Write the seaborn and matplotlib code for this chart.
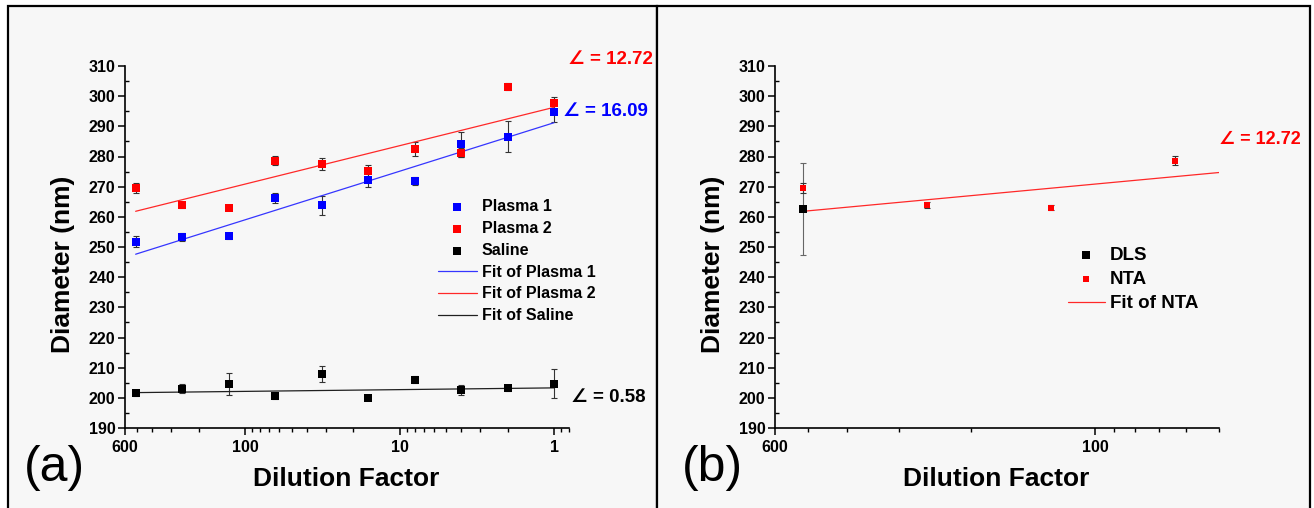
import numpy as np
import pandas as pd
import matplotlib
matplotlib.use("Agg")
import matplotlib.pyplot as plt
import seaborn as sns
from matplotlib.ticker import FixedLocator, FixedFormatter, LogLocator, NullFormatter, MultipleLocator
from matplotlib.patches import Rectangle

# ---------------- data ----------------
dilution = [512, 256, 128, 64, 32, 16, 8, 4, 2, 1]
plasma1 = [251.7, 253.3, 253.8, 266.3, 263.8, 272.2, 272.0, 284.1, 286.6, 294.6]
plasma1_err = [1.8, 1.2, 1.0, 1.7, 3.1, 2.4, 1.3, 4.1, 5.1, 3.2]
plasma2 = [269.5, 263.9, 263.0, 278.6, 277.6, 275.3, 282.5, 281.3, 303.1, 297.8]
plasma2_err = [1.6, 1.0, 0.8, 1.5, 2.0, 2.0, 2.4, 1.5, 1.2, 2.0]
saline = [201.7, 203.0, 204.6, 200.5, 207.9, 200.0, 206.0, 202.6, 203.2, 204.6]
saline_err = [1.0, 1.5, 3.7, 0.8, 2.5, 0.5, 1.2, 1.7, 1.0, 4.8]

dilution_b = [512, 256, 128, 64]
dls_dilution = [512]
dls = [262.7]
dls_err = [15.3]
nta = [269.5, 263.9, 263.0, 278.6]
nta_err = [1.6, 1.0, 0.8, 1.5]

# linear fits  y = y_at_1 - slope * log10(dilution)
fit_slopes = [16.09, 12.72, 0.58]          # Plasma 1, Plasma 2, Saline
fit_y_at_1 = [291.2, 296.3, 203.3]
fit_range_a = [512, 1]
fit_range_b = [512, 50]

slope_labels_a = ["\u2220 = 16.09", "\u2220 = 12.72", "\u2220 = 0.58"]
slope_label_b = "\u2220 = 12.72"

xticks_a = [600, 100, 10, 1]
xticklabels_a = ["600", "100", "10", "1"]
xticks_b = [600, 100]
xticklabels_b = ["600", "100"]

BLUE = "#0000ff"
RED = "#ff0000"
BLACK = "#000000"

# ---------------- style ----------------
sns.set_theme(style="ticks")
plt.rcParams["font.family"] = ["Liberation Sans", "DejaVu Sans"]
plt.rcParams["font.weight"] = "bold"
for k in ["text.color", "axes.labelcolor", "xtick.color", "ytick.color", "axes.edgecolor"]:
    plt.rcParams[k] = "black"

W, H = 1314, 508
fig = plt.figure(figsize=(W / 100, H / 100), dpi=100)
fig.patch.set_facecolor("white")


def fx(px):
    return px / W


def fy(py):
    return 1 - py / H


# panel frames
for x0, x1 in [(8, 657), (657, 1310)]:
    fig.patches.append(Rectangle((fx(x0), -0.05), fx(x1) - fx(x0), fy(6) + 0.05,
                                 transform=fig.transFigure, facecolor="#f7f7f7",
                                 edgecolor="black", lw=1.6, zorder=-10))

ax_a = fig.add_axes([fx(125), fy(428), fx(569) - fx(125), fy(66) - fy(428)])
ax_b = fig.add_axes([fx(775), fy(428), fx(1219) - fx(775), fy(66) - fy(428)])


def fit_frame(xr, slope, y1):
    xf = np.array(xr, dtype=float)
    return pd.DataFrame({"x": xf, "y": y1 - slope * np.log10(xf)})


def style_axis(ax, xlim, ticks, labels):
    ax.set_facecolor("none")
    ax.set_xscale("log")
    ax.set_xlim(*xlim)
    ax.set_ylim(190, 310)
    ax.xaxis.set_major_locator(FixedLocator(ticks))
    ax.xaxis.set_major_formatter(FixedFormatter(labels))
    ax.xaxis.set_minor_locator(LogLocator(base=10, subs=np.arange(2, 10)))
    ax.xaxis.set_minor_formatter(NullFormatter())
    ax.yaxis.set_major_locator(MultipleLocator(10))
    ax.yaxis.set_minor_locator(MultipleLocator(5))
    for s in ["top", "right"]:
        ax.spines[s].set_visible(False)
    for s in ["left", "bottom"]:
        ax.spines[s].set_linewidth(1.2)
    ax.tick_params(axis="x", which="major", direction="out", length=5, width=1.1,
                   labelsize=11.5, pad=4, bottom=True)
    ax.tick_params(axis="x", which="minor", direction="out", length=3, width=1.0, bottom=True)
    ax.tick_params(axis="y", which="major", direction="out", length=5, width=1.1,
                   labelsize=11.5, pad=2, left=True)
    ax.tick_params(axis="y", which="minor", direction="in", length=3, width=1.0, left=True)
    ax.set_xlabel("Dilution Factor", fontsize=19, fontweight="bold")
    ax.set_ylabel("Diameter (nm)", fontsize=19, fontweight="bold")
    ax.xaxis.set_label_coords(0.498, -0.109)
    ax.yaxis.set_label_coords(-0.112, 0.453)


# ---------------- panel (a) ----------------
style_axis(ax_a, (600, 0.8), xticks_a, xticklabels_a)
series_a = [("Plasma 1", plasma1, plasma1_err, BLUE, "#3535ff"),
            ("Plasma 2", plasma2, plasma2_err, RED, "#ff2828"),
            ("Saline", saline, saline_err, BLACK, "#202020")]
for name, vals, err, col, lcol in series_a:
    ax_a.errorbar(dilution, vals, yerr=err, fmt="none", ecolor="#333333",
                  elinewidth=0.8, capsize=2.5, capthick=0.8, zorder=2)
for name, vals, err, col, lcol in series_a:
    sns.scatterplot(x=dilution, y=vals, marker="s", s=30, color=col, linewidth=0,
                    ax=ax_a, zorder=3, label=name, legend=False)
for (name, vals, err, col, lcol), sl, y1 in zip(series_a, fit_slopes, fit_y_at_1):
    dff = fit_frame(fit_range_a, sl, y1)
    sns.lineplot(data=dff, x="x", y="y", color=lcol, lw=0.9, ax=ax_a, zorder=2.5,
                 label="Fit of " + name, legend=False)

h, l = ax_a.get_legend_handles_labels()
hd = dict(zip(l, h))
order_a = ["Plasma 1", "Plasma 2", "Saline", "Fit of Plasma 1", "Fit of Plasma 2", "Fit of Saline"]
ax_a.legend([hd[k] for k in order_a], order_a, loc="upper left",
            bbox_to_anchor=(fx(438), fy(199)), bbox_transform=fig.transFigure,
            frameon=False, fontsize=11.5, handlelength=2.44, handletextpad=0.3,
            labelspacing=0.43, borderpad=0, borderaxespad=0)

# slope annotations
ax_a.text(0.87, 294.8, slope_labels_a[0], color=BLUE, fontsize=13.5, fontweight="bold",
          ha="left", va="center", clip_on=False)
ax_a.text(0.81, 312.0, slope_labels_a[1], color=RED, fontsize=13.5, fontweight="bold",
          ha="left", va="center", clip_on=False)
ax_a.text(0.78, 200.0, slope_labels_a[2], color=BLACK, fontsize=13.5, fontweight="bold",
          ha="left", va="center", clip_on=False)

# ---------------- panel (b) ----------------
style_axis(ax_b, (600, 50), xticks_b, xticklabels_b)
ax_b.errorbar(dls_dilution, dls, yerr=dls_err, fmt="none", ecolor="#666666",
              elinewidth=0.8, capsize=2.5, capthick=0.8, zorder=2)
ax_b.errorbar(dilution_b, nta, yerr=nta_err, fmt="none", ecolor="#333333",
              elinewidth=0.8, capsize=2.5, capthick=0.8, zorder=2)
sns.scatterplot(x=dls_dilution, y=dls, marker="s", s=26, color=BLACK, linewidth=0,
                ax=ax_b, zorder=3, label="DLS", legend=False)
sns.scatterplot(x=dilution_b, y=nta, marker="s", s=18, color=RED, linewidth=0,
                ax=ax_b, zorder=3.5, label="NTA", legend=False)
dfb = fit_frame(fit_range_b, fit_slopes[1], fit_y_at_1[1])
sns.lineplot(data=dfb, x="x", y="y", color="#ff2828", lw=0.9, ax=ax_b, zorder=2.5,
             label="Fit of NTA", legend=False)
h, l = ax_b.get_legend_handles_labels()
hd = dict(zip(l, h))
order_b = ["DLS", "NTA", "Fit of NTA"]
ax_b.legend([hd[k] for k in order_b], order_b, loc="upper left",
            bbox_to_anchor=(fx(1068), fy(247)), bbox_transform=fig.transFigure,
            frameon=False, fontsize=13.5, handlelength=1.95, handletextpad=0.3,
            labelspacing=0.37, borderpad=0, borderaxespad=0)
ax_b.text(50, 285.5, slope_label_b, color=RED, fontsize=13, fontweight="bold",
          ha="left", va="center", clip_on=False)

# panel letters
fig.text(fx(54), fy(468), "(a)", fontsize=36, fontweight="normal", ha="center", va="center")
fig.text(fx(712), fy(468), "(b)", fontsize=36, fontweight="normal", ha="center", va="center")

fig.savefig("out.png", dpi=100)
